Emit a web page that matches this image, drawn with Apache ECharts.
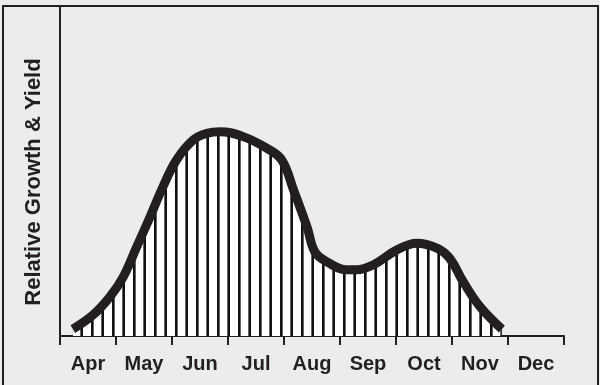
<!DOCTYPE html>
<html>
<head>
<meta charset="utf-8">
<script src="https://cdn.jsdelivr.net/npm/echarts@6/dist/echarts.min.js"></script>
<style>
  html, body { margin: 0; padding: 0; background: #ececec; }
  #chart { width: 600px; height: 385px; }
</style>
</head>
<body>
<div id="chart"></div>
<script>
// Month labels along the bottom (one slot per month)
const months = ['Apr', 'May', 'Jun', 'Jul', 'Aug', 'Sep', 'Oct', 'Nov', 'Dec'];

// Curve: x in months from start of April, y relative (0-100)
const monthPos = [0.23, 0.59, 0.89, 1.13, 1.37, 1.61, 1.84, 2.08, 2.38, 2.62, 2.86, 3.27, 3.69, 3.96,
  4.17, 4.41, 4.55, 4.76, 5.12, 5.30, 5.59, 6.01, 6.37, 6.73, 6.96, 7.20, 7.50, 7.89];
const growth = [2.1, 6.4, 11.9, 18.0, 27.1, 36.3, 45.4, 53.5, 59.6, 61.6, 62.1, 60.6, 57.1, 53.5,
  44.4, 33.2, 25.6, 22.6, 20.1, 20.1, 21.6, 26.1, 28.2, 26.7, 23.6, 16.5, 8.9, 2.1];

const ink = '#231f20';

// vertical hatch used to fill under the curve
const hatch = document.createElement('canvas');
hatch.width = 21;
hatch.height = 4;
const hctx = hatch.getContext('2d');
hctx.fillStyle = '#ffffff';
hctx.fillRect(0, 0, 21, 4);
hctx.fillStyle = '#111111';
hctx.fillRect(7, 0, 2, 4);
hctx.fillRect(18, 0, 2, 4);
hctx.fillStyle = '#666465';
hctx.fillRect(9, 0, 1, 4);
hctx.fillRect(17, 0, 1, 4);

const chart = echarts.init(document.getElementById('chart'), null, { renderer: 'canvas', devicePixelRatio: 1 });

chart.setOption({
  backgroundColor: '#ececec',
  animation: false,
  grid: { left: 60, right: 36, top: 7, bottom: 49 },
  xAxis: [
    {
      type: 'category',
      data: months,
      boundaryGap: true,
      axisLine: { show: true, lineStyle: { color: ink, width: 2 } },
      axisTick: { show: true, inside: false, length: 9, alignWithLabel: false, lineStyle: { color: ink, width: 2 } },
      axisLabel: {
        color: ink,
        fontFamily: 'Liberation Sans, Arial, sans-serif',
        fontWeight: 'bold',
        fontSize: 20,
        margin: 18
      },
      splitLine: { show: false }
    },
    {
      type: 'value',
      min: 0,
      max: 9,
      show: false
    }
  ],
  yAxis: {
    type: 'value',
    min: 0,
    max: 100,
    axisLine: { show: true, lineStyle: { color: ink, width: 2 } },
    axisTick: { show: false },
    axisLabel: { show: false },
    splitLine: { show: false }
  },
  graphic: [
    {
      type: 'rect',
      shape: { x: 3, y: 6, width: 595, height: 400 },
      style: { fill: 'none', stroke: ink, lineWidth: 2 },
      silent: true
    },
    {
      type: 'text',
      x: 34,
      y: 182,
      rotation: Math.PI / 2,
      style: {
        text: 'Relative Growth & Yield',
        fill: ink,
        font: 'bold 22px "Liberation Sans", Arial, sans-serif',
        align: 'center',
        verticalAlign: 'middle'
      }
    }
  ],
  series: [{
    type: 'line',
    xAxisIndex: 1,
    data: monthPos.map((m, i) => [m, growth[i]]),
    smooth: 0.4,
    symbol: 'none',
    lineStyle: { color: ink, width: 9 },
    areaStyle: { color: { image: hatch, repeat: 'repeat' }, opacity: 1 }
  }]
});
</script>
</body>
</html>
